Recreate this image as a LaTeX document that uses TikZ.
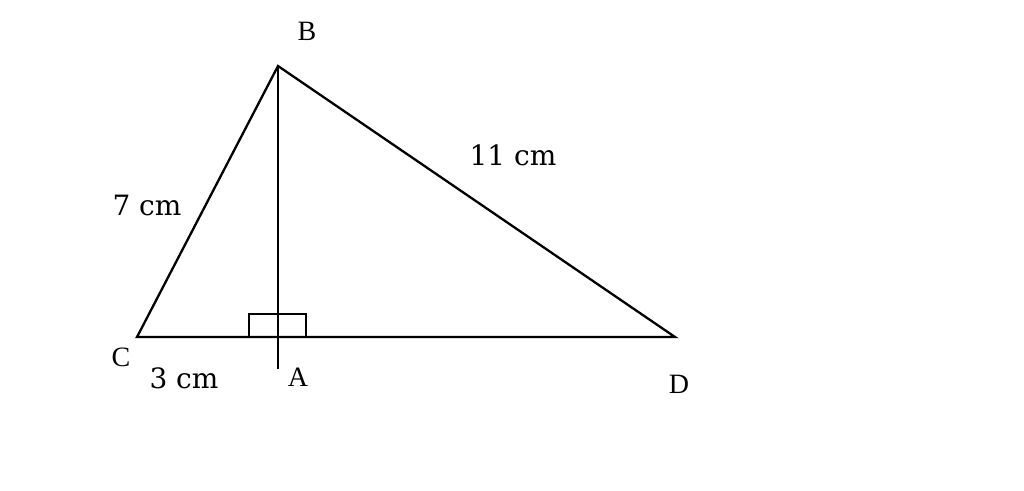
\documentclass[tikz,border=0pt]{standalone}
\usepackage{fontspec}
\setmainfont{Liberation Serif}
\newfontfamily\cmfont{DejaVu Serif}
\begin{document}
\begin{tikzpicture}[x=1pt,y=-1pt,
  edge/.style={line width=2.3pt,line cap=round,line join=miter},
  lbl/.style={font=\fontsize{28}{30}\selectfont,inner sep=0pt},
  mlbl/.style={font=\cmfont\fontsize{28}{30}\selectfont,inner sep=0pt}]
\useasboundingbox (0,0) rectangle (1024,490);
\coordinate (B) at (278,66);
\coordinate (C) at (137,337);
\coordinate (D) at (675,337);
\coordinate (A) at (278,337);
\coordinate (E) at (278,369);
\draw[edge] (C) -- (B) -- (D) -- cycle;
\draw[edge,line cap=butt] (B) -- (E);
\draw[edge,line cap=butt] (249,337) -- (249,314) -- (306,314) -- (306,337);
\node[lbl] (lB) at (307,31) {B};
\node[lbl] (lC) at (121,357) {C};
\node[lbl] (lA) at (298,377) {A};
\node[lbl] (lD) at (679,384) {D};
\node[mlbl] (l7) at (147,205) {7 cm};
\node[mlbl] (l11) at (513,155) {11 cm};
\node[mlbl] (l3) at (184,378) {3 cm};
\end{tikzpicture}
\end{document}
